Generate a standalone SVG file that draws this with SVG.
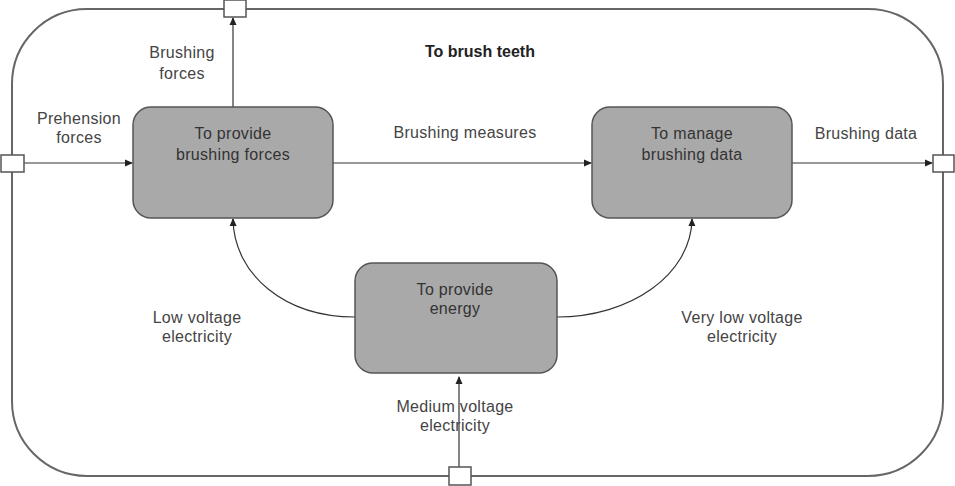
<svg xmlns="http://www.w3.org/2000/svg" width="955" height="486" viewBox="0 0 955 486">
<style>
.frame{fill:#fff;stroke:#666;stroke-width:2}
.node rect{fill:#a9a9a9;stroke:#555;stroke-width:1.5}
.port{fill:#fff;stroke:#555;stroke-width:1.5}
.conn{fill:none;stroke:#333;stroke-width:1.2}
text{font-family:"Liberation Sans",Arial,sans-serif;font-size:16px;letter-spacing:0.3px;text-anchor:middle}
.nt{fill:#333}
.lb{fill:#444}
.title{font-weight:bold;fill:#222;letter-spacing:0}
</style>
<defs>
<marker id="arr" markerWidth="8" markerHeight="8" refX="7" refY="4" orient="auto" markerUnits="userSpaceOnUse">
<path d="M0,0.5 L8,4 L0,7.5 Z" fill="#222"/>
</marker>
</defs>
<rect width="955" height="486" fill="#fff"/>
<g id="frame">
<rect class="frame" x="12" y="9" width="931" height="467" rx="75" ry="75"/>
<text class="title" x="480" y="57">To brush teeth</text>
</g>
<g id="connectors">
<path class="conn" d="M24,163 H132" marker-end="url(#arr)"/>
<path class="conn" d="M233,107 V18" marker-end="url(#arr)"/>
<path class="conn" d="M333,163 H591" marker-end="url(#arr)"/>
<path class="conn" d="M792,163 H932" marker-end="url(#arr)"/>
<path class="conn" d="M355,317 C285,317 234,275 233,219" marker-end="url(#arr)"/>
<path class="conn" d="M557,317 C630,317 691,275 692,219" marker-end="url(#arr)"/>
<path class="conn" d="M459,467 V377" marker-end="url(#arr)"/>
</g>
<g id="ports">
<rect id="port-top" class="port" x="224" y="0" width="22" height="17"/>
<rect id="port-left" class="port" x="1" y="155" width="23" height="17"/>
<rect id="port-right" class="port" x="933" y="155" width="21" height="17"/>
<rect id="port-bottom" class="port" x="449" y="467" width="22" height="18"/>
</g>
<g id="node-forces" class="node">
<rect x="133" y="107" width="200" height="111" rx="18" ry="18"/>
<text class="nt" x="233" y="139">To provide</text>
<text class="nt" x="233" y="160">brushing forces</text>
</g>
<g id="node-data" class="node">
<rect x="592" y="107" width="200" height="111" rx="18" ry="18"/>
<text class="nt" x="692" y="139">To manage</text>
<text class="nt" x="692" y="160">brushing data</text>
</g>
<g id="node-energy" class="node">
<rect x="355" y="263" width="202" height="110" rx="18" ry="18"/>
<text class="nt" x="455" y="295">To provide</text>
<text class="nt" x="455" y="314">energy</text>
</g>
<g id="labels">
<text class="lb" x="182" y="58">Brushing</text>
<text class="lb" x="182" y="79">forces</text>
<text class="lb" x="79" y="124">Prehension</text>
<text class="lb" x="79" y="143">forces</text>
<text class="lb" x="465" y="138">Brushing measures</text>
<text class="lb" x="866" y="139">Brushing data</text>
<text class="lb" x="197" y="323">Low voltage</text>
<text class="lb" x="197" y="342">electricity</text>
<text class="lb" x="742" y="323">Very low voltage</text>
<text class="lb" x="742" y="342">electricity</text>
<text class="lb" x="455" y="412">Medium voltage</text>
<text class="lb" x="455" y="431">electricity</text>
</g>
</svg>
